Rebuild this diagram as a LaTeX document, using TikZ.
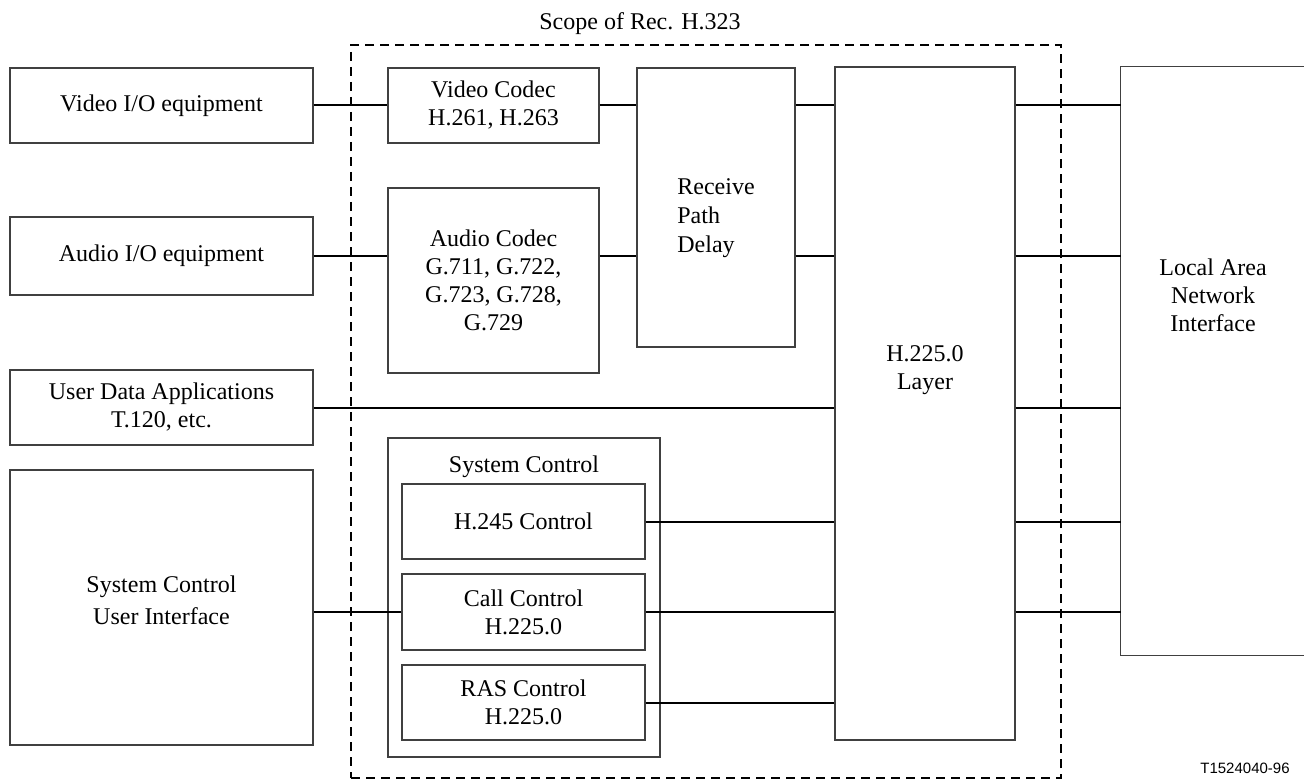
\documentclass[tikz,border=0pt]{standalone}
\usepackage{fontspec}
\setmainfont{Liberation Serif}
\newfontfamily\tagfont{Liberation Sans}
\begin{document}
\begin{tikzpicture}[x=1pt,y=-1pt,
	blk/.style={draw=black!75,line width=1.2pt,inner sep=0pt,align=center,font=\fontsize{24}{28}\selectfont},
	txt/.style={inner sep=0pt,align=center,font=\fontsize{24}{28}\selectfont},
	wire/.style={line width=2pt}]
	\useasboundingbox (0,0) rectangle (1304,781);
	\node[draw,line width=2pt,dash pattern=on 9pt off 6pt,minimum width=710,minimum height=733] (scope) at (706,411.5) {};
	\node[txt] (scopelbl) at (640,24) {Scope of Rec. H.323};
	\node[blk,minimum width=303,minimum height=75] (vidio) at (161.5,105.5) {Video I/O equipment};
	\node[blk,minimum width=303,minimum height=78] (audio) at (161.5,256) {Audio I/O equipment};
	\node[blk,minimum width=303,minimum height=75] (udata) at (161.5,407.5) {User Data Applications\\T.120, etc.};
	\node[blk,minimum width=303,minimum height=275] (scui) at (161.5,607.5) {};
	\node[txt,font=\fontsize{24}{32}\selectfont] (scuitxt) at (161.5,600) {System Control\\User Interface};
	\node[blk,minimum width=211,minimum height=75] (vcodec) at (493.5,105.5) {Video Codec\\H.261, H.263};
	\node[blk,minimum width=211,minimum height=185] (acodec) at (493.5,280.5) {Audio Codec\\G.711, G.722,\\G.723, G.728,\\G.729};
	\node[blk,minimum width=158,minimum height=279] (rpd) at (716,207.5) {};
	\node[txt,align=left,font=\fontsize{24}{29}\selectfont] (rpdtxt) at (716,218) {Receive\\Path\\Delay};
	\node[blk,minimum width=272,minimum height=319] (sysctl) at (524,597.5) {};
	\node[txt] (sysctltxt) at (524,467) {System Control};
	\node[blk,minimum width=243,minimum height=75] (h245) at (523.5,521.5) {H.245 Control};
	\node[blk,minimum width=243,minimum height=76] (callc) at (523.5,612) {Call Control\\H.225.0};
	\node[blk,minimum width=243,minimum height=75] (rasc) at (523.5,702.5) {RAS Control\\H.225.0};
	\node[blk,minimum width=180,minimum height=673] (h225) at (925,403.5) {};
	\node[txt] (h225txt) at (925,370) {H.225.0\\Layer};
	\node[inner sep=0pt,minimum width=185,minimum height=588] (lan) at (1213.5,361) {};
	\draw[draw=black!75,line width=1.2pt] (lan.north east) -- (lan.north west) -- (lan.south west) -- (lan.south east);
	\node[txt] (lantxt) at (1213,295) {Local Area\\Network\\Interface};
	\node[inner sep=0pt,font=\tagfont\fontsize{15}{18}\selectfont] (tag) at (1245,768) {T1524040-96};

	\draw[wire] (vidio.east) -- (vcodec.west);
	\draw[wire] (vcodec.east) -- (vcodec.east -| rpd.west);
	\draw[wire] (rpd.east |- vcodec.east) -- (h225.west |- vcodec.east);
	\draw[wire] (audio.east) -- (audio.east -| acodec.west);
	\draw[wire] (acodec.east |- audio.east) -- (rpd.west |- audio.east);
	\draw[wire] (rpd.east |- audio.east) -- (h225.west |- audio.east);
	\draw[wire] (udata.east) -- (udata.east -| h225.west);
	\draw[wire] (h245.east) -- (h245.east -| h225.west);
	\draw[wire] (callc.east) -- (callc.east -| h225.west);
	\draw[wire] (rasc.east) -- (rasc.east -| h225.west);
	\draw[wire] (scui.east |- callc.west) -- (callc.west);
	\foreach \src in {vcodec,audio,udata,h245,callc}
		\draw[wire] (h225.east |- \src.east) -- (lan.west |- \src.east);
\end{tikzpicture}
\end{document}
